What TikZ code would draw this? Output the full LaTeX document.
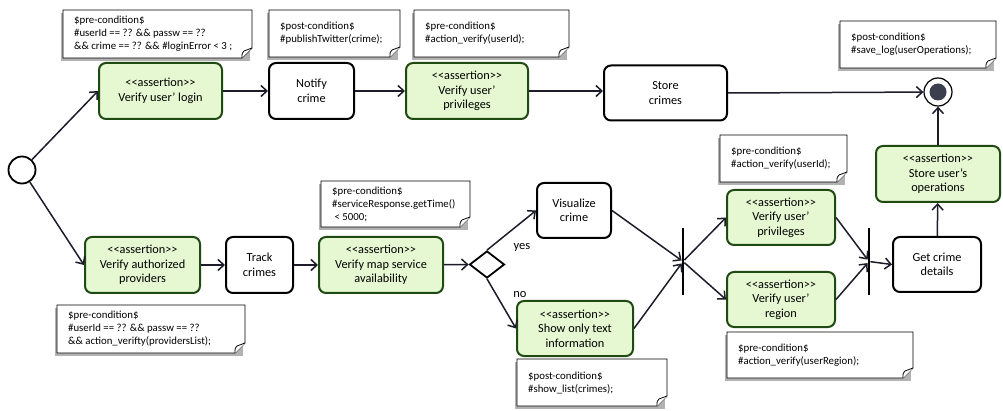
\documentclass[tikz,border=0pt]{standalone}
\usepackage{fontspec}
\setmainfont{Carlito}
\usetikzlibrary{arrows.meta,shapes.geometric,positioning}
\definecolor{assertfill}{HTML}{E6F8D2}
\definecolor{assertline}{HTML}{1F4A12}
\definecolor{flowline}{HTML}{1C1C2A}
\definecolor{finaldot}{HTML}{3B3E4C}
\newcommand\stereo[1]{<\kern0pt<#1>\kern0pt>}
% note with folded corner: name, x1, y1, x2, y2, text
\newcommand\notecard[6]{%
  \fill[noteshade] (#2-2,#3+3) rectangle (#4-2,#5+3);
  \draw[notepaper] (#2,#3) -- (#4,#3) -- (#4,#5-10) -- (#4-10,#5) -- (#2,#5) -- cycle;
  \draw[notepaper] (#4,#5-10) -- (#4-8,#5-7) .. controls (#4-10,#5-5) .. (#4-10,#5);
  \node[notetext,anchor=west] (#1) at (#2+11,{(#3+#5)/2}) {#6};
}

\begin{document}
\begin{tikzpicture}[x=1pt,y=-1pt]
\tikzset{
  act/.style={draw=black, line width=2pt, rounded corners=7pt, fill=white, align=center,
    font=\fontsize{12.3}{14.5}\selectfont, inner sep=0pt},
  assert/.style={act, draw=assertline, fill=assertfill},
  box size/.style 2 args={minimum width=#1pt, minimum height=#2pt},
  flow/.style={draw=flowline, line width=1.5pt, -{Straight Barb[length=6pt,width=11pt,line width=1.5pt]}},
  forkbar/.style={fill=black, minimum width=2.4pt, minimum height=67pt, inner sep=0pt},
  notepaper/.style={draw=black, line width=0.8pt, fill=white},
  noteshade/.style={fill=black!30},
  notetext/.style={align=left, font=\fontsize{10.8}{13}\selectfont, inner sep=0pt},
  guard/.style={font=\fontsize{12.5}{14}\selectfont, inner sep=0pt}
}
\useasboundingbox (0,0) rectangle (1003,411);
%start and end
\node[draw, circle, line width=1.8pt, minimum size=27pt, inner sep=0pt] (start) at (22,170) {};
\node[draw, circle, line width=1.2pt, minimum size=28pt, inner sep=0pt, fill=white] (finish) at (938,92) {};
\node[circle, fill=finaldot, minimum size=17pt, inner sep=0pt] (finishdot) at (finish) {};
%top row
\node[assert, box size={123}{56}] (login) at (160.5,91) {\stereo{assertion}\\Verify user' login};
\node[act, box size={85}{56}] (notify) at (311.5,91) {Notify\\crime};
\node[assert, box size={122}{56}] (privtop) at (467,91) {\stereo{assertion}\\Verify user'\\privileges};
\node[act, box size={123}{55}] (store) at (665.5,93) {Store\\crimes};
%bottom row
\node[assert, box size={115}{56}] (providers) at (142.5,265) {\stereo{assertion}\\Verify authorized\\providers};
\node[act, box size={67}{56}] (track) at (259.5,265) {Track\\crimes};
\node[assert, box size={124}{56}] (mapsvc) at (381,265) {\stereo{assertion}\\Verify map service\\availability};
\node[draw, diamond, line width=1.8pt, minimum width=35pt, minimum height=27pt, inner sep=0pt] (choice) at (487,264.5) {};
\node[act, box size={74}{55}] (visualize) at (574,210.5) {Visualize\\crime};
\node[assert, box size={116}{55}] (showtext) at (575,328.5) {\stereo{assertion}\\Show only text\\information};
\node[forkbar] (forkA) at (683,261.5) {};
\node[assert, box size={108}{55}] (privbot) at (781,217.5) {\stereo{assertion}\\Verify user'\\privileges};
\node[assert, box size={108}{55}] (region) at (781,299.5) {\stereo{assertion}\\Verify user'\\region};
\node[forkbar] (forkB) at (869,261.5) {};
\node[act, box size={88}{55}] (details) at (937,264.5) {Get crime\\details};
\node[assert, box size={124}{56}] (storeops) at (938,174) {\stereo{assertion}\\Store user's\\operations};
%guards
\node[guard] (yes) at (522,247) {yes};
\node[guard] (no) at (520,295) {no};
%flows
\draw[flow] (start) -- (login.west);
\draw[flow] (login) -- (notify);
\draw[flow] (notify) -- (privtop);
\draw[flow] (privtop.east) -- (store.west |- privtop.east);
\draw[flow] (store.east) -- (finish);
\draw[flow] (start) -- (providers.west);
\draw[flow] (providers) -- (track);
\draw[flow] (track) -- (mapsvc);
\draw[flow] (mapsvc) -- (choice.west);
\draw[flow] (choice.north) -- (visualize.west);
\draw[flow] (choice.south) -- (showtext.west);
\draw[flow] (visualize.east) -- (forkA);
\draw[flow] (showtext.east) -- (forkA);
\draw[flow] (forkA) -- (privbot.west);
\draw[flow] (forkA) -- (region.west);
\draw[flow] (privbot.east) -- (forkB);
\draw[flow] (region.east) -- (forkB);
\draw[flow] (forkB) -- (details.west);
\draw[flow] (details) -- (storeops);
\draw[flow] (storeops) -- (finish);
%notes
\notecard{noteLogin}{63}{10}{252}{58}{\$pre-condition\$\\\#userId == ?? \&\& passw == ??\\\&\& crime == ?? \&\& \#loginError < 3 ;}
\notecard{noteNotify}{269}{10}{400}{57}{\$post-condition\$\\\#publishTwitter(crime);}
\notecard{notePrivTop}{414}{10}{569}{57}{\$pre-condition\$\\\#action\_verify(userId);}
\notecard{noteLog}{840}{21}{996}{68}{\$post-condition\$\\\#save\_log(userOperations);}
\notecard{noteMap}{321}{181}{470}{227}{\$pre-condition\$\\\#serviceResponse.getTime()\\\ < 5000;}
\notecard{noteProviders}{57}{305}{245}{353}{\$pre-condition\$\\\#userId == ?? \&\& passw == ??\\\&\& action\_verifty(providersList);}
\notecard{noteShow}{517}{359}{667}{406}{\$post-condition\$\\\#show\_list(crimes);}
\notecard{notePrivBot}{720}{135}{847}{182}{\$pre-condition\$\\\#action\_verify(userId);}
\notecard{noteRegion}{727}{332}{913}{378}{\$pre-condition\$\\\#action\_verify(userRegion);}
\end{tikzpicture}
\end{document}
